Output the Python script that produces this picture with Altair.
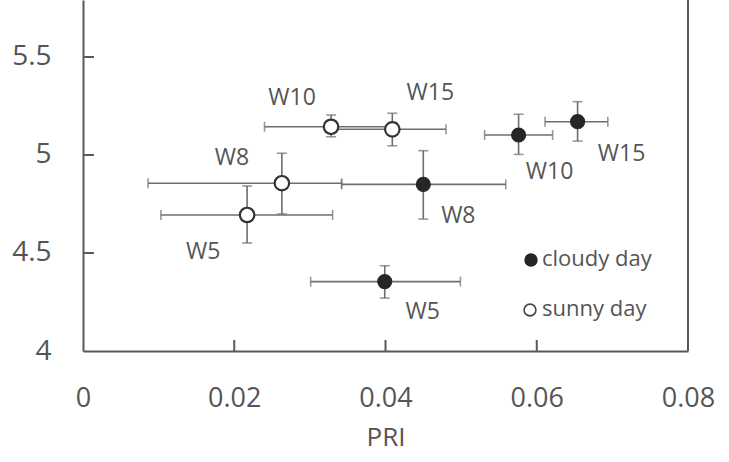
import altair as alt
import pandas as pd

# ---- data ----
labels = ["W5", "W8", "W10", "W15"]

sunny_x = [0.0217, 0.0263, 0.0328, 0.0409]
sunny_y = [4.694, 4.856, 5.144, 5.131]
sunny_xlo = [0.0103, 0.0086, 0.0240, 0.0330]
sunny_xhi = [0.0330, 0.0342, 0.0415, 0.0480]
sunny_ylo = [4.551, 4.699, 5.093, 5.047]
sunny_yhi = [4.842, 5.009, 5.204, 5.213]

cloudy_x = [0.0399, 0.0450, 0.0576, 0.0654]
cloudy_y = [4.354, 4.850, 5.102, 5.170]
cloudy_xlo = [0.0301, 0.0342, 0.0531, 0.0611]
cloudy_xhi = [0.0499, 0.0559, 0.0621, 0.0694]
cloudy_ylo = [4.270, 4.673, 5.003, 5.071]
cloudy_yhi = [4.435, 5.022, 5.208, 5.272]

x_ticks = [0, 0.02, 0.04, 0.06, 0.08]
y_ticks = [4, 4.5, 5, 5.5]

# ---- style ----
W, H = 605, 351
TXT = "#555555"
AX = "#595959"
BAR = "#6e6e6e"
DARK = "#262626"
FONT = "Open Sans"
# label offsets (pixels) relative to each point
sunny_off = {"W5": (-44, 37), "W8": (-50, -25), "W10": (-39, -29), "W15": (38, -36)}
cloudy_off = {"W5": (38, 30), "W8": (35, 32), "W10": (31, 37), "W15": (44, 32)}

rows = []
for i, lab in enumerate(labels):
    rows.append(dict(day="sunny", label=lab, x=sunny_x[i], y=sunny_y[i],
                     xlo=sunny_xlo[i], xhi=sunny_xhi[i], ylo=sunny_ylo[i], yhi=sunny_yhi[i]))
    rows.append(dict(day="cloudy", label=lab, x=cloudy_x[i], y=cloudy_y[i],
                     xlo=cloudy_xlo[i], xhi=cloudy_xhi[i], ylo=cloudy_ylo[i], yhi=cloudy_yhi[i]))
df = pd.DataFrame(rows)

xs = alt.Scale(domain=[0, 0.08], nice=False, zero=False)
ys = alt.Scale(domain=[4, 5.7908], nice=False, zero=False)

base = alt.Chart(df)

xaxis = alt.Axis(values=x_ticks, format="~g", tickSize=0, labelPadding=34,
                 labelFontSize=27, labelFont=FONT, labelColor=TXT, labelFlush=False,
                 labelOverlap=False,
                 domainColor=AX, domainWidth=2, grid=False,
                 title="PRI", titleFont=FONT, titleFontSize=26, titleFontWeight="normal",
                 titleColor=TXT, titleY=86, titleBaseline="middle")
yaxis = alt.Axis(values=y_ticks, format="~g", tickSize=0, labelPadding=32,
                 labelFontSize=28, labelFont=FONT, labelColor=TXT, labelFlush=False,
                 labelOverlap=False,
                 domainColor=AX, domainWidth=2, grid=False, title=None)

# horizontal error bars
hbar = base.mark_rule(color=BAR, strokeWidth=1.6).encode(
    x=alt.X("xlo:Q", scale=xs, axis=xaxis), x2="xhi:Q",
    y=alt.Y("y:Q", scale=ys, axis=yaxis))
vbar = base.mark_rule(color=BAR, strokeWidth=1.6).encode(
    x=alt.X("x:Q", scale=xs), y=alt.Y("ylo:Q", scale=ys), y2="yhi:Q")

caps = []
for fld in ["xlo", "xhi"]:
    caps.append(base.mark_tick(color=BAR, orient="vertical", size=10, thickness=1.6).encode(
        x=alt.X(f"{fld}:Q", scale=xs), y=alt.Y("y:Q", scale=ys)))
for fld in ["ylo", "yhi"]:
    caps.append(base.mark_tick(color=BAR, orient="horizontal", size=10, thickness=1.6).encode(
        x=alt.X("x:Q", scale=xs), y=alt.Y(f"{fld}:Q", scale=ys)))

pts_cloudy = base.transform_filter(alt.datum.day == "cloudy").mark_point(
    shape="circle", filled=True, size=230, color=DARK, opacity=1).encode(
    x=alt.X("x:Q", scale=xs), y=alt.Y("y:Q", scale=ys))
pts_sunny = base.transform_filter(alt.datum.day == "sunny").mark_point(
    shape="circle", filled=True, size=210, fill="white", stroke="#333333",
    strokeWidth=2.2, opacity=1).encode(
    x=alt.X("x:Q", scale=xs), y=alt.Y("y:Q", scale=ys))

texts = []
for day, off in [("sunny", sunny_off), ("cloudy", cloudy_off)]:
    for lab, (dx, dy) in off.items():
        texts.append(base.transform_filter(
            (alt.datum.day == day) & (alt.datum.label == lab)).mark_text(
            font=FONT, fontSize=23, color=TXT, dx=dx, dy=dy, align="center",
            baseline="middle").encode(
            x=alt.X("x:Q", scale=xs), y=alt.Y("y:Q", scale=ys), text="label:N"))

# inward ticks
tick_df = pd.DataFrame({"xt": x_ticks[1:-1]})
xtick = alt.Chart(tick_df).mark_rule(color=AX, strokeWidth=2).encode(
    x=alt.X("xt:Q", scale=xs), y=alt.value(H), y2=alt.value(H - 11))
ytick_df = pd.DataFrame({"yt": y_ticks[1:]})
ytick = alt.Chart(ytick_df).mark_rule(color=AX, strokeWidth=2).encode(
    y=alt.Y("yt:Q", scale=ys), x=alt.value(0), x2=alt.value(11))
right = alt.Chart(tick_df).mark_rule(color=AX, strokeWidth=2).encode(
    x=alt.value(W), y=alt.value(0), y2=alt.value(H))

# legend
leg_items = ["cloudy day", "sunny day"]
leg_df = pd.DataFrame({"item": leg_items})
leg_c = alt.Chart(leg_df).transform_filter(alt.datum.item == leg_items[0]).mark_point(
    shape="circle", filled=True, size=180, color=DARK, opacity=1).encode(
    x=alt.value(448), y=alt.value(260))
leg_s = alt.Chart(leg_df).transform_filter(alt.datum.item == leg_items[1]).mark_point(
    shape="circle", filled=True, size=140, fill="white", stroke="#444444",
    strokeWidth=1.6, opacity=1).encode(
    x=alt.value(447), y=alt.value(310))
leg_t1 = alt.Chart(leg_df).transform_filter(alt.datum.item == leg_items[0]).mark_text(
    font=FONT, fontSize=22, color=TXT, align="left", baseline="middle").encode(
    x=alt.value(459), y=alt.value(259), text="item:N")
leg_t2 = alt.Chart(leg_df).transform_filter(alt.datum.item == leg_items[1]).mark_text(
    font=FONT, fontSize=22, color=TXT, align="left", baseline="middle").encode(
    x=alt.value(459), y=alt.value(309), text="item:N")

chart = alt.layer(hbar, vbar, *caps, pts_cloudy, pts_sunny, *texts,
                  xtick, ytick, right, leg_c, leg_s, leg_t1, leg_t2).properties(
    width=W, height=H,
    autosize=alt.AutoSizeParams(type="none"),
    padding={"left": 83, "top": 0, "right": 41, "bottom": 111},
    background="white",
).configure_view(stroke=None)

chart.save("out.html", embed_options={"renderer": "svg", "actions": False})
